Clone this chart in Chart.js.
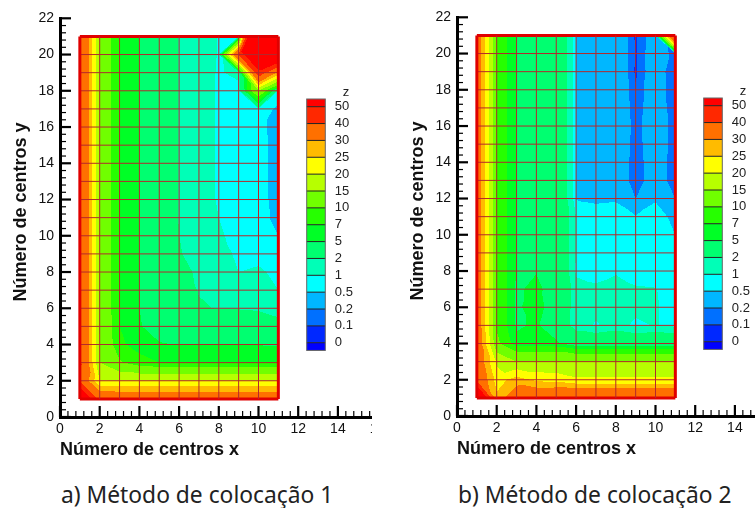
<!DOCTYPE html>
<html>
<head>
<meta charset="utf-8">
<title>Método de colocação</title>
<script src="https://cdn.jsdelivr.net/npm/chart.js@4"></script>
<style>
  html, body { margin: 0; padding: 0; background: #fff; overflow: hidden; width: 755px; height: 508px; }
  .panel { position: absolute; overflow: hidden; }
  canvas { filter: blur(0.35px); }
  .caption { position: absolute; top: 479px; font: 22.8px "Noto Sans", sans-serif; color: #222; white-space: nowrap; }
</style>
</head>
<body>
<div class="panel" style="left:0;top:0;width:372px;height:461px"><canvas id="chartA" width="400" height="461"></canvas></div>
<div class="panel" style="left:397px;top:-1px;width:358px;height:462px"><canvas id="chartB" width="400" height="461"></canvas></div>
<div class="caption" style="left:61px">a) Método de colocação 1</div>
<div class="caption" style="left:458px">b) Método de colocação 2</div>
<script>
const GRID_X = [1,2,3,4,5,6,7,8,9,10,11];
const GRID_Y = [21,20,19,18,17,16,15,14,13,12,11,10,9,8,7,6,5,4,3,2,1];
const LEVELS = [0,0.1,0.2,0.5,1,2,5,7,10,15,20,25,30,40,50];
const LEVEL_LABELS = ['0','0.1','0.2','0.5','1','2','5','7','10','15','20','25','30','40','50'];
const LEVEL_COLORS = ['#0000ff','#0028ff','#0070ff','#00b7ff','#00ffff','#00ffb7','#00ff70','#00ff26','#26ff00','#70ff00','#b7ff00','#ffff00','#ffbb00','#ff7000','#ff2800','#ff0000'];

// z at the mesh nodes, one row per GRID_Y value, one column per GRID_X value
const Z_METHOD_1 = [
  [42,14.5,6.8,5,3,1.95,1.4,0.95,0.9,105,80],
  [42,14.5,6.8,5,3,1.95,1.4,0.95,42,70,68],
  [42,14.5,6.8,5,3,1.95,1.4,0.92,1.2,47,28],
  [42,14.5,6.8,5,3,1.95,1.4,0.9,0.75,15,0.9],
  [42,14.5,6.8,5,3,1.95,1.4,0.9,0.75,0.9,0.37],
  [42,14.5,6.8,5,3,1.95,1.4,0.9,0.75,0.6,0.37],
  [42,14.5,6.8,5,3,1.95,1.4,0.9,0.75,0.6,0.38],
  [42,14.5,6.8,5,3,1.95,1.4,0.9,0.75,0.6,0.38],
  [42,14.5,6.8,5,3,1.95,1.4,0.9,0.75,0.6,0.38],
  [42,14.5,6.8,5,3,1.95,1.4,0.92,0.75,0.6,0.4],
  [42,14.5,6.8,5,3,1.95,1.45,1,0.78,0.6,0.42],
  [42,14.5,6.8,5,3,2,1.6,1.08,0.82,0.62,0.5],
  [42,14.5,6.8,5,3,2.05,1.75,1.25,0.88,0.8,0.6],
  [42,14.5,6.8,5,3,2.2,1.9,1.5,1,1.1,0.85],
  [42,14.5,6.8,5,3.2,2.5,1.95,1.6,1.4,1.3,1],
  [42,14.5,6.8,5,3.4,3,2.1,1.95,1.95,1.9,1.7],
  [42,14.5,7,5.2,3.8,3.4,3.2,3,2.9,2.6,2.3],
  [42,15,7.5,6,5.2,4.9,4.9,4.9,4.9,4.9,4.8],
  [42,15,10.5,8,7,7,7,7,7,7,7],
  [38,20,19.5,19.5,19.5,19.5,19.5,19.5,19.5,19.5,19.5],
  [70,37,37,37,37,37,37,37,37,37,37]
];
const Z_METHOD_2 = [
  [36,9.5,4.8,4.2,3.9,0.48,0.4,0.38,0.08,0.3,50],
  [36,9.5,4.8,4.2,3.9,0.48,0.42,0.38,0.09,0.32,0.14],
  [36,9.5,4.8,4.2,3.9,0.48,0.42,0.38,0.08,0.32,0.08],
  [36,9.5,4.8,4.2,3.9,0.48,0.42,0.38,0.11,0.32,0.09],
  [36,9.5,4.8,4.2,3.9,0.48,0.42,0.38,0.12,0.33,0.1],
  [36,9.5,4.8,4.2,3.9,0.48,0.42,0.38,0.14,0.33,0.13],
  [36,9.5,4.8,4.2,3.9,0.48,0.42,0.38,0.13,0.33,0.12],
  [36,9.5,4.8,4.2,3.9,0.48,0.42,0.38,0.11,0.33,0.1],
  [36,9.5,4.8,4.2,3.9,0.48,0.42,0.38,0.1,0.33,0.1],
  [36,9.5,4.8,4.2,3.9,0.48,0.45,0.47,0.2,0.47,0.2],
  [36,9.5,4.8,4.2,3.9,0.98,0.62,0.62,0.52,0.62,0.42],
  [36,9.5,4.8,4.2,3.9,0.98,0.68,0.66,0.6,0.62,0.5],
  [36,9.5,4.8,4.2,3.9,0.98,0.72,0.72,0.68,0.66,0.62],
  [36,9.5,4.8,4.9,3.9,0.85,0.8,0.9,0.8,0.75,0.7],
  [36,9.5,4.7,5.5,3.9,1.3,1.1,1.35,1.05,1.02,0.78],
  [36,9.5,4.7,5.8,3.8,1.35,1.2,1.35,1.2,1.05,0.8],
  [36,9.5,4.7,5.3,3.4,1.4,0.92,1.3,0.85,1.05,0.8],
  [36,11,5.6,5.6,5.4,3.5,3.5,3.5,3.5,3.5,3.5],
  [36,19,15,15,15,15,15,15,15,15,15],
  [38,23,27,24,23,21,21,21,21,21,21],
  [75,26,36,38,40,40,40,40,40,40,40]
];

function colorFor(z) {
  let i = 0;
  while (i < LEVELS.length && z >= LEVELS[i]) i++;
  return LEVEL_COLORS[i];
}

// linear interpolation on two triangles, split along the flatter diagonal of the cell
function zAt(grid, x, y) {
  const i = Math.min(Math.floor(x) - 1, GRID_X.length - 2);
  const j = Math.min(GRID_Y[0] - Math.ceil(y), GRID_Y.length - 2);
  const u = x - GRID_X[i], v = y - GRID_Y[j + 1];
  const z00 = grid[j + 1][i], z10 = grid[j + 1][i + 1], z01 = grid[j][i], z11 = grid[j][i + 1];
  if (Math.abs(z00 - z11) <= Math.abs(z10 - z01)) {
    return u >= v ? z00 + u * (z10 - z00) + v * (z11 - z10) : z00 + v * (z01 - z00) + u * (z11 - z01);
  }
  return u + v <= 1 ? z00 + u * (z10 - z00) + v * (z01 - z00) : z11 + (1 - u) * (z01 - z11) + (1 - v) * (z10 - z11);
}

const contourFill = {
  id: 'contourFill',
  beforeDatasetsDraw(chart, args, opts) {
    const { ctx, scales: { x: sx, y: sy } } = chart;
    const x0 = Math.round(sx.getPixelForValue(1)), x1 = Math.round(sx.getPixelForValue(11));
    const y0 = Math.round(sy.getPixelForValue(21)), y1 = Math.round(sy.getPixelForValue(1));
    ctx.save();
    for (let py = y0; py < y1; py++) {
      const vy = sy.getValueForPixel(py + 0.5);
      let start = x0, cur = null;
      for (let px = x0; px <= x1; px++) {
        const c = px < x1 ? colorFor(zAt(opts.grid, sx.getValueForPixel(px + 0.5), vy)) : null;
        if (c !== cur) {
          if (cur) { ctx.fillStyle = cur; ctx.fillRect(start, py, px - start, 1); }
          cur = c; start = px;
        }
      }
    }
    ctx.restore();
  }
};

const MAJOR_STEP = 2;
function isMajor(v) { return Math.abs(v / MAJOR_STEP - Math.round(v / MAJOR_STEP)) < 1e-6; }

// tick marks of this plot style point into the plot
const inwardTicks = {
  id: 'inwardTicks',
  afterDatasetsDraw(chart) {
    const { ctx, scales: { x: sx, y: sy } } = chart;
    ctx.save();
    ctx.strokeStyle = '#000';
    sx.ticks.forEach(t => {
      const p = sx.getPixelForValue(t.value), major = isMajor(t.value);
      ctx.lineWidth = major ? 2.2 : 1.2;
      ctx.beginPath(); ctx.moveTo(p, sx.top); ctx.lineTo(p, sx.top - (major ? 11 : 6)); ctx.stroke();
    });
    sy.ticks.forEach(t => {
      const p = sy.getPixelForValue(t.value), major = isMajor(t.value);
      ctx.lineWidth = major ? 2.2 : 1.2;
      ctx.beginPath(); ctx.moveTo(sy.right, p); ctx.lineTo(sy.right + (major ? 11 : 6), p); ctx.stroke();
    });
    // y title sits a little above the axis centre in the original
    ctx.fillStyle = '#111';
    ctx.font = 'bold 18px "Liberation Sans"';
    ctx.textAlign = 'center';
    ctx.textBaseline = 'middle';
    ctx.translate(21, 212);
    ctx.rotate(-Math.PI / 2);
    ctx.fillText('Número de centros y', 0, 0);
    ctx.restore();
  }
};

const contourLegend = {
  id: 'contourLegend',
  afterDraw(chart) {
    const { ctx, chartArea } = chart;
    const left = chartArea.left + 246.7, width = 18.6;
    const first = 106.7, step = 16.86, cap = 7.7;
    const n = LEVELS.length;
    ctx.save();
    LEVEL_COLORS.slice().reverse().forEach((c, i) => {
      const top = i === 0 ? first - cap : first + (i - 1) * step;
      const h = i === 0 ? cap : (i === n ? cap : step);
      ctx.fillStyle = c;
      ctx.fillRect(left, top, width, h);
    });
    ctx.strokeStyle = '#222';
    ctx.lineWidth = 1;
    ctx.font = '13px "Liberation Sans"';
    ctx.textBaseline = 'middle';
    ctx.textAlign = 'left';
    LEVEL_LABELS.slice().reverse().forEach((label, i) => {
      const y = first + i * step;
      ctx.beginPath(); ctx.moveTo(left, y); ctx.lineTo(left + width, y); ctx.stroke();
      ctx.fillStyle = '#222';
      ctx.fillText(label, left + width + 9.5, y);
    });
    ctx.fillText('z', left + width + 17.5, first - 14);
    ctx.strokeStyle = '#666';
    ctx.strokeRect(left, first - cap, width, (n - 1) * step + 2 * cap);
    ctx.restore();
  }
};

function meshDatasets() {
  const sets = [];
  const xMin = GRID_X[0], xMax = GRID_X[GRID_X.length - 1];
  const yMax = GRID_Y[0], yMin = GRID_Y[GRID_Y.length - 1];
  GRID_X.forEach(x => {
    const edge = x === xMin || x === xMax;
    sets.push({
      data: [{ x, y: yMin }, { x, y: yMax }],
      borderColor: edge ? '#e00000' : '#b4282c',
      borderWidth: edge ? 3 : 1
    });
  });
  GRID_Y.forEach(y => {
    const edge = y === yMin || y === yMax;
    sets.push({
      data: [{ x: xMin, y }, { x: xMax, y }],
      borderColor: edge ? '#e00000' : '#b4282c',
      borderWidth: edge ? 3 : 1
    });
  });
  return sets;
}

function makeChart(id, grid, xTitle) {
  const tickFont = { family: 'Liberation Sans', size: 14 };
  const titleFont = { family: 'Liberation Sans', size: 18, weight: 'bold' };
  const tickCb = v => isMajor(v) ? String(Math.round(v)) : '';
  return new Chart(document.getElementById(id), {
    type: 'scatter',
    data: { datasets: meshDatasets() },
    plugins: [contourFill, inwardTicks, contourLegend],
    options: {
      responsive: false,
      animation: false,
      layout: { padding: { top: 18.3, right: 22.4, left: 0, bottom: 0 } },
      showLine: true,
      elements: { point: { radius: 0 }, line: { tension: 0 } },
      plugins: { legend: { display: false }, tooltip: { enabled: false }, contourFill: { grid } },
      scales: {
        x: {
          type: 'linear', min: 0, max: 16,
          border: { color: '#000', width: 3 },
          grid: { drawOnChartArea: false, drawTicks: false },
          ticks: { stepSize: 0.4, autoSkip: false, maxRotation: 0, padding: 4, color: '#111', font: tickFont, callback: tickCb },
          title: { display: true, text: xTitle, align: 'start', color: '#111', font: titleFont, padding: 0 },
          afterFit: s => { s.height = 44; }
        },
        y: {
          type: 'linear', min: 0, max: 22,
          border: { color: '#000', width: 3 },
          grid: { drawOnChartArea: false, drawTicks: false },
          ticks: { stepSize: 0.4, autoSkip: false, padding: 6, color: '#111', font: tickFont, callback: tickCb },
          afterFit: s => { s.width = 60; }
        }
      }
    }
  });
}

makeChart('chartA', Z_METHOD_1, 'Número de centros x');
makeChart('chartB', Z_METHOD_2, 'Número de centros x');
</script>
</body>
</html>
